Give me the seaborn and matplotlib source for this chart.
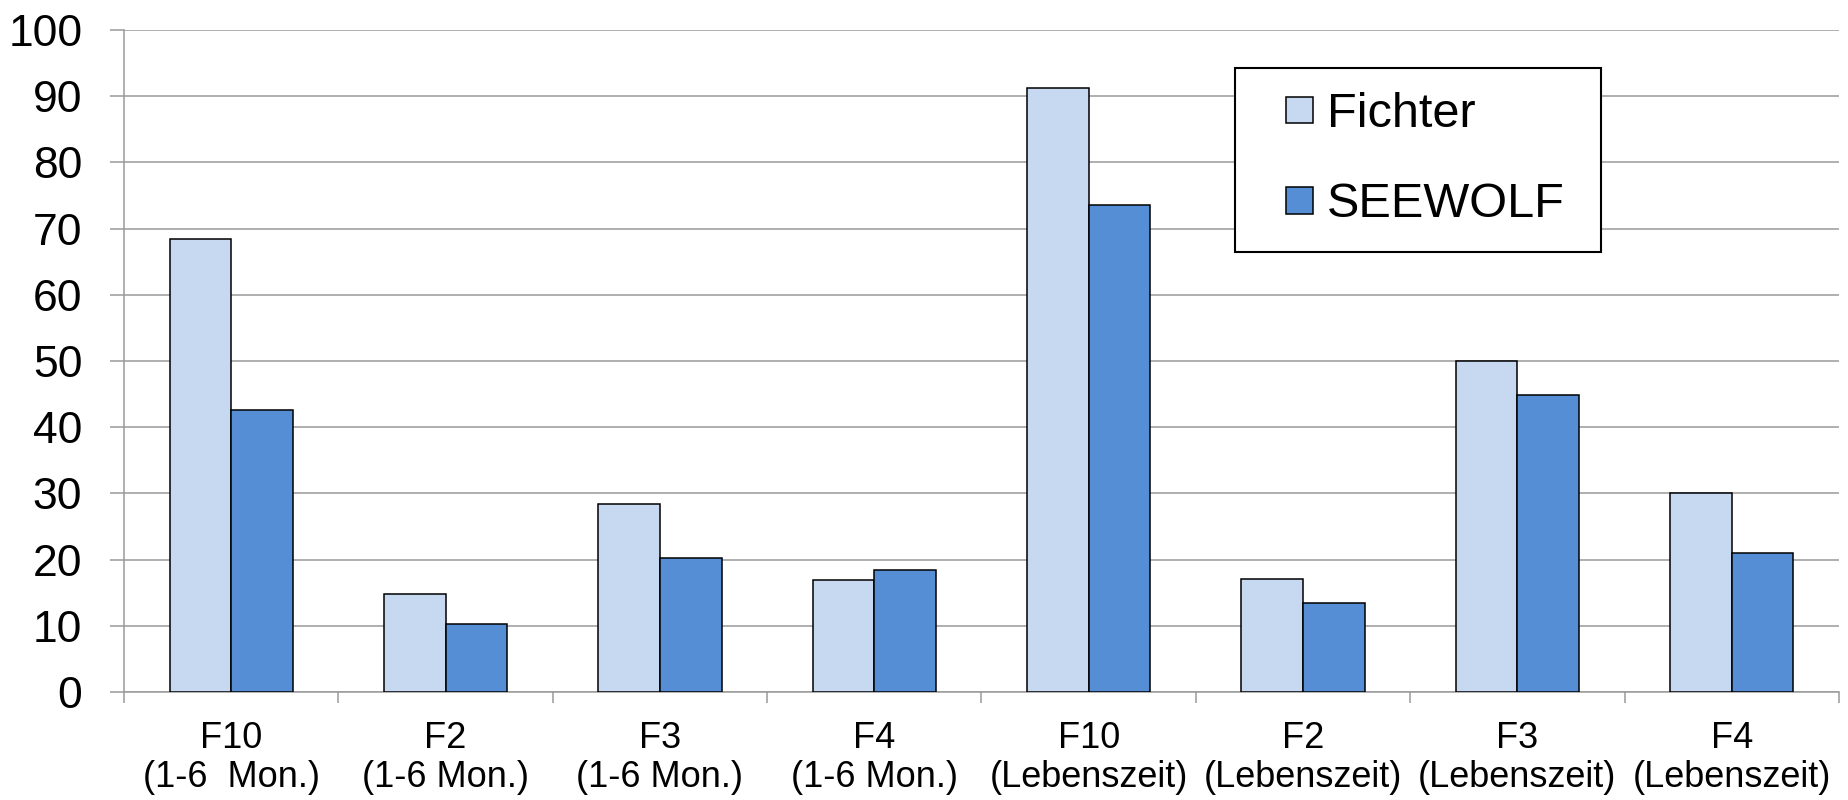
import matplotlib
matplotlib.use("Agg")
import matplotlib.pyplot as plt
import matplotlib.patches
from matplotlib.legend_handler import HandlerPatch
from matplotlib.ticker import FixedLocator
import pandas as pd
import seaborn as sns

categories = [
    "F10\n(1-6  Mon.)",
    "F2\n(1-6 Mon.)",
    "F3\n(1-6 Mon.)",
    "F4\n(1-6 Mon.)",
    "F10\n(Lebenszeit)",
    "F2\n(Lebenszeit)",
    "F3\n(Lebenszeit)",
    "F4\n(Lebenszeit)",
]
fichter = [68.4, 14.8, 28.4, 16.9, 91.3, 17.0, 50.0, 30.0]
seewolf = [42.6, 10.3, 20.2, 18.4, 73.5, 13.5, 44.8, 21.0]
series_names = ["Fichter", "SEEWOLF"]
colors = ["#C6D9F1", "#558ED5"]
y_ticks = list(range(0, 101, 10))

df = pd.DataFrame({
    "category": categories * 2,
    "value": fichter + seewolf,
    "series": [series_names[0]] * len(categories) + [series_names[1]] * len(categories),
})

sns.set_style("white")
plt.rcParams["font.family"] = ["Liberation Sans", "DejaVu Sans"]
plt.rcParams["text.color"] = "black"

fig = plt.figure(figsize=(18.49, 8), dpi=100)
ax = fig.add_axes([0.06706, 0.135, 0.92753, 0.8275])

sns.barplot(
    data=df, x="category", y="value", hue="series",
    order=categories, hue_order=series_names, palette=colors,
    saturation=1, width=0.575, edgecolor="black", linewidth=1.1,
    legend=False, ax=ax, zorder=3,
)

grid_color = "#9a9a9a"
ax.set_ylim(0, 100)
ax.set_xlim(-0.5, len(categories) - 0.5)
ax.set_yticks(y_ticks)
ax.yaxis.grid(True, color=grid_color, linewidth=1.1, zorder=0)
ax.set_axisbelow(True)
ax.set_xlabel("")
ax.set_ylabel("")

for side in ["top", "right"]:
    ax.spines[side].set_visible(False)
for side in ["left", "bottom"]:
    ax.spines[side].set_color(grid_color)
    ax.spines[side].set_linewidth(1.1)

# category separators as minor ticks
ax.xaxis.set_minor_locator(FixedLocator([i - 0.5 for i in range(len(categories) + 1)]))
ax.tick_params(axis="x", which="minor", length=8, width=1.1, color=grid_color, bottom=True)
ax.tick_params(axis="x", which="major", length=0, pad=21, labelsize=26, labelcolor="black")
ax.tick_params(axis="y", which="major", length=10, width=1.1, color=grid_color,
               left=True, pad=20, labelsize=32, labelcolor="black")
for lbl in ax.get_xticklabels():
    lbl.set_linespacing(1.15)


def square_handle(legend, orig_handle, xdescent, ydescent, width, height, fontsize):
    s = 0.55 * fontsize
    return matplotlib.patches.Rectangle(
        (-xdescent + width - s, -ydescent + (height - s) / 2), s, s)


handles = [
    matplotlib.patches.Patch(facecolor=c, edgecolor="black", linewidth=1.1, label=n)
    for n, c in zip(series_names, colors)
]
leg = ax.legend(
    handles=handles, loc="upper left", bbox_to_anchor=(0.648, 0.0, 0.2134, 0.943),
    mode="expand", fontsize=35, frameon=True, fancybox=False, framealpha=1,
    edgecolor="black", borderpad=0.5, labelspacing=0.93,
    handlelength=1.1, handleheight=0.7, handletextpad=0.28,
    borderaxespad=0, labelcolor="black",
    handler_map={matplotlib.patches.Patch: HandlerPatch(patch_func=square_handle)},
)
leg.get_frame().set_linewidth(1.5)
leg.set_zorder(5)

fig.savefig("out.png", dpi=100)
plt.close(fig)
